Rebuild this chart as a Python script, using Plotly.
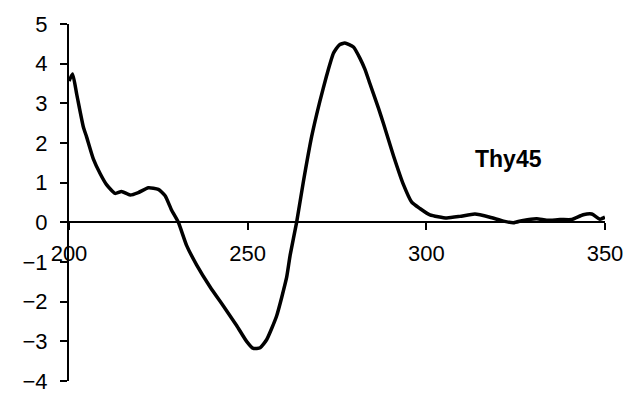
import plotly.graph_objects as go

# CD spectrum of Thy45: wavelength (nm) vs ellipticity
wavelength = [200.0, 201.0, 202.2, 204.0, 204.9, 206.8, 208.7, 210.5, 212.9, 214.7,
              217.1, 219.4, 222.2, 225.0, 226.9, 228.7, 230.6, 232.9, 235.7, 239.5,
              243.2, 246.9, 249.7, 251.6, 253.5, 255.3, 258.1, 260.9, 261.9, 263.7,
              265.6, 267.9, 270.2, 272.1, 274.0, 275.6, 277.2, 279.6, 281.4, 282.8,
              284.2, 286.6, 288.0, 290.8, 293.6, 295.9, 298.2, 301.0, 305.7, 309.4,
              313.6, 317.8, 321.6, 324.4, 327.1, 330.9, 333.7, 337.4, 340.7, 343.9,
              346.3, 348.6, 350.0]
signal = [3.56, 3.74, 3.21, 2.41, 2.16, 1.60, 1.23, 0.95, 0.73, 0.78,
          0.69, 0.75, 0.87, 0.83, 0.67, 0.31, 0.00, -0.58, -1.07, -1.63,
          -2.11, -2.60, -3.00, -3.18, -3.16, -2.96, -2.36, -1.39, -0.82, 0.00,
          1.03, 2.16, 3.05, 3.70, 4.26, 4.47, 4.52, 4.42, 4.14, 3.86,
          3.50, 2.88, 2.49, 1.68, 0.95, 0.51, 0.35, 0.19, 0.11, 0.15,
          0.21, 0.13, 0.03, -0.01, 0.05, 0.09, 0.05, 0.07, 0.07, 0.19,
          0.21, 0.08, 0.13]

x_ticks = [200, 250, 300, 350]
y_ticks = [-4, -3, -2, -1, 0, 1, 2, 3, 4, 5]
x_range = [200, 350]
y_range = [-4, 5]
label = "Thy45"

font_family = "Liberation Sans, Arial, sans-serif"

fig = go.Figure()
fig.add_trace(go.Scatter(
    x=wavelength, y=signal, mode="lines",
    line=dict(color="black", width=3.5, shape="spline", smoothing=0.5),
    showlegend=False,
))

# x axis crosses at y = 0
zero_pos = (0 - y_range[0]) / (y_range[1] - y_range[0])

fig.update_layout(
    width=637, height=406,
    margin=dict(l=69, r=32, t=16, b=18),
    paper_bgcolor="white", plot_bgcolor="white",
    font=dict(family=font_family, size=22, color="black"),
    xaxis=dict(
        range=x_range, tickvals=x_ticks, showgrid=False, zeroline=False,
        showline=True, linecolor="black", linewidth=2,
        ticks="outside", ticklen=7, tickwidth=2, tickcolor="black",
        anchor="free", position=zero_pos, ticklabelstandoff=4,
    ),
    yaxis=dict(
        range=y_range, tickvals=y_ticks, showgrid=False, zeroline=False,
        showline=True, linecolor="black", linewidth=2,
        ticks="outside", ticklen=7, tickwidth=2, tickcolor="black",
        ticklabelstandoff=8,
    ),
    annotations=[dict(
        x=323, y=1.6, xref="x", yref="y", text=f"<b>{label}</b>",
        showarrow=False, font=dict(family=font_family, size=23, color="black"),
    )],
)

fig.write_html("out.html")
